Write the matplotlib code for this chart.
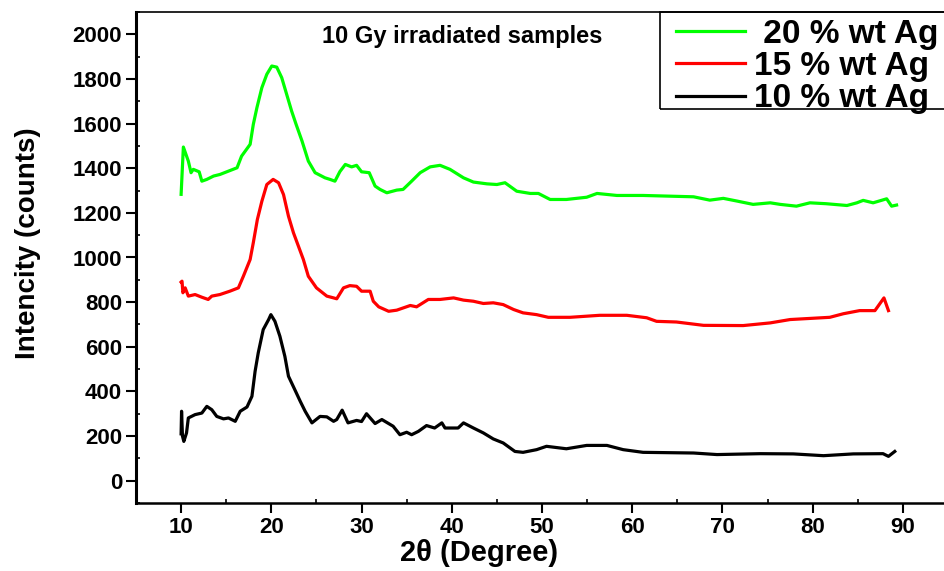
"""
XRD patterns of Ag-loaded samples after 10 Gy irradiation
"""

import matplotlib
matplotlib.use("Agg")
import matplotlib.pyplot as plt
from matplotlib import ticker
from matplotlib.patches import Rectangle

matplotlib.rcParams.update({
    "font.family": ["Liberation Sans", "DejaVu Sans"],
    "font.weight": "bold",
    "axes.labelweight": "bold",
})

# 20 % wt Ag
two_theta_20 = [10.0, 10.25, 10.8, 11.1, 11.35, 12.0, 12.3, 12.85, 13.6, 14.3,
                15.25, 16.2, 16.7, 17.65, 18.0, 18.4, 18.95, 19.5, 20.05, 20.6,
                21.15, 21.7, 22.25, 22.75, 23.4, 24.1, 24.85, 25.95, 26.5, 27.05,
                27.6, 28.2, 28.9, 29.45, 30.0, 30.85, 31.5, 32.05, 32.8, 33.9,
                34.6, 35.55, 36.5, 37.6, 38.7, 39.8, 41.3, 42.4, 43.9, 45.0,
                45.9, 47.2, 48.7, 49.6, 50.9, 52.7, 54.95, 56.1, 58.3, 61.2,
                66.8, 68.6, 70.1, 71.6, 73.4, 75.3, 76.4, 78.2, 79.7, 81.5,
                83.8, 84.9, 85.6, 86.7, 88.2, 88.75, 89.3]
counts_20 = [1283, 1495, 1432, 1380, 1395, 1384, 1342, 1350, 1365, 1372,
             1387, 1402, 1454, 1507, 1596, 1671, 1761, 1821, 1858, 1853,
             1806, 1731, 1656, 1596, 1522, 1432, 1380, 1357, 1350, 1342,
             1385, 1417, 1406, 1413, 1384, 1380, 1320, 1305, 1290, 1302,
             1305, 1342, 1380, 1406, 1413, 1395, 1357, 1338, 1330, 1327,
             1335, 1297, 1287, 1287, 1260, 1260, 1270, 1287, 1278, 1278,
             1272, 1257, 1265, 1253, 1238, 1245, 1238, 1230, 1245, 1241,
             1233, 1245, 1256, 1245, 1263, 1230, 1235]

# 15 % wt Ag
two_theta_15 = [10.0, 10.1, 10.2, 10.45, 10.8, 11.55, 12.3, 13.0, 13.4, 14.3,
                15.4, 16.35, 16.9, 17.65, 18.0, 18.45, 18.95, 19.5, 20.2, 20.8,
                21.35, 21.9, 22.45, 23.0, 23.55, 24.1, 25.0, 26.15, 26.9, 27.25,
                28.0, 28.7, 29.45, 30.0, 30.95, 31.3, 31.9, 33.0, 33.9, 35.4,
                36.1, 37.4, 38.7, 40.2, 41.3, 42.4, 43.5, 44.6, 45.7, 46.85,
                47.9, 49.4, 50.7, 53.1, 56.4, 59.4, 61.6, 62.7, 64.9, 67.9,
                72.3, 75.3, 77.5, 81.9, 83.4, 85.2, 86.9, 87.9, 88.4]
counts_15 = [890, 894, 842, 864, 827, 834, 822, 812, 827, 834,
             849, 864, 916, 991, 1066, 1170, 1252, 1327, 1350, 1335,
             1282, 1185, 1111, 1051, 991, 916, 864, 827, 819, 815,
             864, 874, 871, 849, 849, 804, 779, 759, 764, 785,
             779, 812, 812, 819, 809, 804, 794, 797, 789, 767,
             752, 744, 732, 732, 741, 741, 730, 714, 711, 696,
             695, 707, 722, 732, 748, 762, 762, 819, 762]

# 10 % wt Ag
two_theta_10 = [10.0, 10.05, 10.15, 10.3, 10.6, 10.8, 11.55, 12.3, 12.85, 13.4,
                13.95, 14.7, 15.25, 16.0, 16.55, 17.3, 17.85, 18.2, 18.55, 19.1,
                19.7, 19.95, 20.4, 20.95, 21.5, 21.9, 22.6, 23.2, 23.75, 24.5,
                25.4, 26.15, 26.9, 27.25, 27.85, 28.5, 29.45, 30.0, 30.55, 31.5,
                32.25, 33.5, 34.25, 35.0, 35.55, 36.3, 37.2, 38.1, 38.9, 39.25,
                40.7, 41.3, 42.4, 43.5, 44.6, 45.7, 47.0, 47.9, 49.4, 50.5,
                52.7, 54.95, 57.2, 59.0, 61.2, 66.8, 69.4, 74.2, 77.85, 81.2,
                84.5, 87.8, 88.4, 89.1]
counts_10 = [210, 311, 200, 176, 214, 281, 296, 303, 333, 318,
             288, 277, 281, 266, 311, 330, 378, 490, 573, 677,
             722, 744, 714, 647, 557, 468, 408, 356, 311, 259,
             288, 286, 266, 274, 316, 259, 270, 265, 300, 256,
             274, 244, 206, 217, 206, 221, 247, 236, 259, 236,
             236, 259, 236, 214, 187, 169, 131, 127, 139, 154,
             143, 158, 158, 139, 127, 124, 117, 121, 120, 112,
             120, 121, 109, 131]

FIG_W, FIG_H = 945, 571


def px(x, y):
    """figure pixel (from top-left) -> figure fraction"""
    return x / FIG_W, 1 - y / FIG_H


def main():
    fig = plt.figure(figsize=(FIG_W / 100, FIG_H / 100), dpi=100)
    x0, y0 = px(136, 503)
    ax = fig.add_axes([x0, y0, 812 / FIG_W, 491 / FIG_H])

    lw = 2.3
    ax.plot(two_theta_20, counts_20, color="#00ff00", lw=lw, label=" 20 % wt Ag")
    ax.plot(two_theta_15, counts_15, color="#ff0000", lw=lw, label="15 % wt Ag")
    ax.plot(two_theta_10, counts_10, color="black", lw=lw, label="10 % wt Ag")

    ax.set_xlim(5, 95)
    ax.set_ylim(-100, 2100)
    ax.xaxis.set_major_locator(ticker.MultipleLocator(10))
    ax.xaxis.set_minor_locator(ticker.MultipleLocator(5))
    ax.yaxis.set_major_locator(ticker.MultipleLocator(200))
    ax.yaxis.set_minor_locator(ticker.MultipleLocator(100))
    ax.set_xticks(range(10, 91, 10))
    ax.set_yticks(range(0, 2001, 200))

    ax.spines["left"].set_linewidth(2.2)
    ax.spines["bottom"].set_linewidth(1.8)
    ax.spines["top"].set_linewidth(1.2)
    ax.spines["right"].set_linewidth(1.2)
    ax.tick_params(which="major", direction="out", length=7, width=1.5,
                   labelsize=16, pad=3, top=False, right=False)
    ax.tick_params(which="minor", direction="in", length=3, width=1.2,
                   top=False, right=False)

    ax.set_xlabel("2\u03b8 (Degree)", fontsize=21, fontweight="bold", va="center")
    ax.xaxis.set_label_coords((479 - 136) / 812, (503 - 553) / 491)
    ax.set_ylabel("Intencity (counts)", fontsize=20, fontweight="bold", va="center")
    ax.yaxis.set_label_coords((28 - 136) / 812, (503 - 243) / 491)

    tx, ty = px(462, 36)
    fig.text(tx, ty, "10 Gy irradiated samples", fontsize=17, fontweight="bold",
             ha="center", va="center")

    # legend box hangs off the right edge of the plot
    lx, ly = px(660, 109)
    fig.patches.append(Rectangle((lx, ly), 300 / FIG_W, 97 / FIG_H,
                                 transform=fig.transFigure, fill=False,
                                 edgecolor="black", lw=1.2))
    ax.legend(loc="upper left", bbox_to_anchor=px(669, 12),
              bbox_transform=fig.transFigure, frameon=False,
              fontsize=24, handlelength=2.07, handletextpad=0.27,
              labelspacing=0.04, borderpad=0.2, borderaxespad=0)

    fig.savefig("out.png", dpi=100)
    plt.close(fig)


if __name__ == "__main__":
    main()
